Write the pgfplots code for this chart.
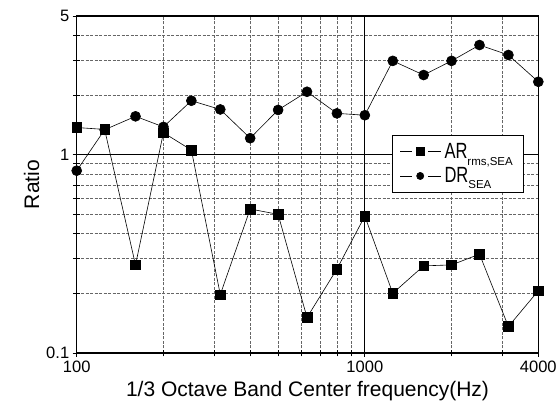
\documentclass[border=0pt]{standalone}
\usepackage{fontspec}
\setmainfont{Liberation Sans}
\newfontfamily\legfont[FakeStretch=0.75]{Liberation Sans}
\usepackage{pgfplots}
\pgfplotsset{compat=1.18}
\begin{document}
\begin{tikzpicture}
\useasboundingbox (-76.7pt,-61pt) rectangle (481.3pt,353pt);
\begin{axis}[
  at={(0,0)}, anchor=south west,
  scale only axis,
  width=461.6pt, height=337pt,
  xmode=log, ymode=log,
  xmin=100, xmax=4000, ymin=0.1, ymax=5,
  xtick={100,1000,4000}, xticklabels={100,1000,4000},
  ytick={0.1,1,5}, yticklabels={0.1,1,5},
  minor xtick={200,300,400,500,600,700,800,900,2000,3000},
  minor ytick={0.2,0.3,0.4,0.5,0.6,0.7,0.8,0.9,2,3,4},
  grid=both,
  major grid style={black, line width=1.3pt},
  minor grid style={black!60, line width=0.5pt, dash pattern=on 3pt off 1.5pt},
  axis line style={black, line width=1.4pt},
  tick align=center,
  tick style={black, line width=0.8pt},
  major tick length=8pt, minor tick length=7pt,
  xtick pos=bottom, ytick pos=left,
  ticklabel style={font=\fontsize{16.5}{18}\selectfont},
  xlabel={1/3 Octave Band Center frequency(Hz)},
  ylabel={Ratio},
  label style={font=\fontsize{21}{24}\selectfont},
  xlabel style={yshift=-2pt},
  legend style={at={(0.682,0.648)}, anchor=north west, draw=black, line width=0.8pt, fill=white,
    font=\legfont\fontsize{22}{24}\selectfont, row sep=4pt, inner xsep=8pt, inner ysep=6pt,
    nodes={inner xsep=3pt}},
  legend cell align=left,
  legend image code/.code={\draw[#1, mark=none] (0pt,0pt) -- (12pt,0pt) (28pt,0pt) -- (41pt,0pt);
    \draw[#1, mark size=3.6pt] plot coordinates {(20pt,0pt)};},
]
\addplot[black, line width=0.6pt, mark=square*, mark size=4.8pt, mark options={solid}] coordinates {
(100,1.37) (125,1.34) (160,0.278) (200,1.29) (250,1.055) (315,0.197) (400,0.532) (500,0.50)
(630,0.151) (800,0.265) (1000,0.49) (1250,0.20) (1600,0.275) (2000,0.278) (2500,0.315)
(3150,0.136) (4000,0.206)};
\addlegendentry{AR\raisebox{-7pt}{\fontspec{Liberation Sans}\fontsize{11.5}{12}\selectfont rms,SEA}}
\addplot[black, line width=0.6pt, mark=*, mark size=5pt, mark options={solid}] coordinates {
(100,0.83) (125,1.335) (160,1.56) (200,1.38) (250,1.87) (315,1.69) (400,1.21) (500,1.68)
(630,2.075) (800,1.615) (1000,1.58) (1250,2.97) (1600,2.52) (2000,2.97) (2500,3.57)
(3150,3.18) (4000,2.33)};
\addlegendentry{DR\raisebox{-6pt}{\fontspec{Liberation Sans}\fontsize{11.5}{12}\selectfont SEA}}
\end{axis}
\end{tikzpicture}
\end{document}
